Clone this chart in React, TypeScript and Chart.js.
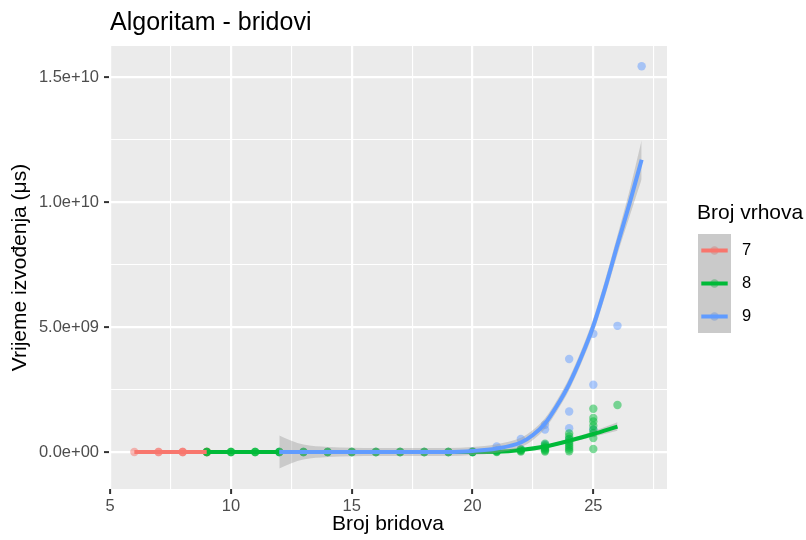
import React, { useEffect, useRef } from 'react';
import { Chart, registerables } from 'chart.js';

Chart.register(...registerables);

const FONT = '"Liberation Sans", Arial, Helvetica, sans-serif';

// ---------- text ----------
const titleText = 'Algoritam - bridovi';
const xTitle = 'Broj bridova';
const yTitle = 'Vrijeme izvođenja (μs)';
const legendTitle = 'Broj vrhova';
const groupLabels = ['7', '8', '9'];
const groupColors = ['#F8766D', '#00BA38', '#619CFF'];
const groupColorsA = ['rgba(248,118,109,0.5)', 'rgba(0,186,56,0.5)', 'rgba(97,156,255,0.5)'];

// ---------- axes ----------
const xRange = [4.95, 28.05];
const yRange = [-1.48e9, 16.25e9];
const xTicks = [5, 7.5, 10, 12.5, 15, 17.5, 20, 22.5, 25, 27.5];
const xMajor = [5, 10, 15, 20, 25];
const yTicks = [0, 2.5e9, 5e9, 7.5e9, 1e10, 1.25e10, 1.5e10];
const yMajor = [0, 5e9, 1e10, 1.5e10];

const UNIT = 1e9; // values below are in units of 1e9 µs

// ---------- raw points ----------
const redX = [6, 7, 7, 8, 8, 8, 9, 9, 9];
const redY = [0, 0, 0, 0, 0, 0, 0, 0, 0];

const greenX = [
  9, 9, 9, 10, 10, 10, 11, 11, 11, 12, 12, 12, 13, 13, 13, 14, 14, 14,
  15, 15, 15, 16, 16, 16, 17, 17, 17, 18, 18, 18, 19, 19, 19, 20, 20, 20,
  21, 21, 21, 22, 22, 22, 22,
  23, 23, 23, 23, 23, 23, 23,
  24, 24, 24, 24, 24, 24, 24, 24, 24,
  25, 25, 25, 25, 25, 25, 25, 25,
  26,
];
const greenY = [
  0, 0, 0, 0, 0, 0, 0, 0, 0, 0, 0, 0, 0, 0, 0, 0, 0, 0,
  0, 0, 0, 0, 0, 0, 0, 0, 0, 0, 0, 0, 0, 0, 0, 0, 0, 0,
  0, 0.02, 0.04, 0.02, 0.05, 0.08, 0.1,
  0.02, 0.06, 0.1, 0.15, 0.2, 0.26, 0.33,
  0.03, 0.1, 0.18, 0.26, 0.34, 0.42, 0.52, 0.62, 0.74,
  0.12, 0.56, 0.76, 0.89, 1.05, 1.22, 1.36, 1.73,
  1.88,
];

const blueX = [12, 13, 14, 15, 16, 17, 18, 19, 20, 20, 21, 21, 22, 22, 23, 23, 23, 24, 24, 24, 24, 25, 25, 25, 26, 27];
const blueY = [0, 0, 0, 0, 0, 0, 0, 0, 0, 0.03, 0.05, 0.22, 0.12, 0.52, 0.3, 0.9, 1.09, 0.5, 0.95, 1.62, 3.72, 0.9, 2.69, 4.73, 5.05, 15.44];

// ---------- smooth fits (fit and band half-width) ----------
const redFitX = [6, 7, 8, 9];
const redFitY = [0, 0, 0, 0];
const redFitSe = [0.02, 0.02, 0.02, 0.02];

const greenFitX = [9, 10, 11, 12, 13, 14, 15, 16, 17, 18, 19, 20, 21, 22, 23, 24, 25, 26];
const greenFitY = [0, 0, 0, 0, 0, 0, 0, 0, 0, 0, 0, 0, 0.01, 0.08, 0.22, 0.45, 0.72, 1.02];
const greenFitSe = [0.03, 0.03, 0.03, 0.03, 0.03, 0.03, 0.03, 0.03, 0.03, 0.03, 0.03, 0.03, 0.04, 0.05, 0.06, 0.08, 0.11, 0.17];

const blueFitX = [12, 12.5, 13, 14, 15, 16, 17, 18, 19, 20, 21, 22, 22.5, 23, 23.5, 24, 24.5, 25, 25.5, 26, 26.5, 27];
const blueFitY = [0, 0, 0, 0, 0, 0, 0, 0, 0, 0.04, 0.14, 0.38, 0.68, 1.14, 1.86, 2.72, 3.8, 5.05, 6.6, 8.3, 9.95, 11.7];
const blueFitSe = [0.66, 0.45, 0.3, 0.2, 0.17, 0.16, 0.16, 0.16, 0.16, 0.16, 0.17, 0.19, 0.2, 0.21, 0.22, 0.24, 0.26, 0.29, 0.33, 0.38, 0.52, 0.78];

const RIBBON = 'rgba(153,153,153,0.4)';

const pts = (xs: number[], ys: number[]) => xs.map((x, i) => ({ x, y: ys[i] * UNIT }));
const band = (xs: number[], ys: number[], se: number[], sign: number) =>
  xs.map((x, i) => ({ x, y: (ys[i] + sign * se[i]) * UNIT }));

const fmtSci = (v: number) => {
  const [m, e] = v.toExponential(1).split('e');
  const sign = e[0] === '-' ? '-' : '+';
  const d = e.replace(/^[+-]/, '').padStart(2, '0');
  return `${m}e${sign}${d}`;
};

function pointSet(xs: number[], ys: number[], g: number, order: number) {
  return {
    type: 'scatter' as const,
    data: pts(xs, ys),
    showLine: false,
    pointRadius: 4.2,
    pointHoverRadius: 4.2,
    pointBorderWidth: 0,
    pointBackgroundColor: groupColorsA[g],
    borderColor: 'rgba(0,0,0,0)',
    order,
  };
}

function ribbonSets(xs: number[], ys: number[], se: number[], order: number) {
  const common = {
    type: 'line' as const,
    borderWidth: 0,
    borderColor: 'rgba(0,0,0,0)',
    pointRadius: 0,
    cubicInterpolationMode: 'monotone' as const,
    order,
  };
  return [
    { ...common, data: band(xs, ys, se, 1), fill: '+1', backgroundColor: RIBBON },
    { ...common, data: band(xs, ys, se, -1), fill: false },
  ];
}

function fitLine(xs: number[], ys: number[], g: number, order: number) {
  return {
    type: 'line' as const,
    data: pts(xs, ys),
    borderColor: groupColors[g],
    borderWidth: 4,
    pointRadius: 0,
    fill: false,
    cubicInterpolationMode: 'monotone' as const,
    borderCapStyle: 'butt' as const,
    order,
  };
}

const ggPlugin = {
  id: 'ggDecor',
  beforeDraw(chart: any) {
    const { ctx, chartArea: a } = chart;
    ctx.save();
    ctx.fillStyle = '#FFFFFF';
    ctx.fillRect(0, 0, chart.width, chart.height);
    ctx.fillStyle = '#EBEBEB';
    ctx.fillRect(a.left, a.top, a.right - a.left, a.bottom - a.top);
    ctx.restore();
  },
  afterDraw(chart: any) {
    const { ctx } = chart;
    ctx.save();
    // title
    ctx.fillStyle = '#000000';
    ctx.font = `25px ${FONT}`;
    ctx.textAlign = 'left';
    ctx.textBaseline = 'alphabetic';
    ctx.fillText(titleText, 110, 30);

    // legend
    ctx.font = `21px ${FONT}`;
    ctx.textBaseline = 'middle';
    ctx.fillText(legendTitle, 697, 213);
    const kx = 698, ky = 234, ks = 33;
    for (let i = 0; i < groupLabels.length; i++) {
      const y0 = ky + i * ks;
      const cy = y0 + ks / 2;
      ctx.fillStyle = '#EBEBEB';
      ctx.fillRect(kx, y0, ks, ks);
      ctx.beginPath();
      ctx.arc(kx + ks / 2, cy, 4.2, 0, Math.PI * 2);
      ctx.fillStyle = groupColorsA[i];
      ctx.fill();
      ctx.fillStyle = RIBBON;
      ctx.fillRect(kx, y0, ks, ks);
      ctx.strokeStyle = groupColors[i];
      ctx.lineWidth = 4;
      ctx.lineCap = 'butt';
      ctx.beginPath();
      ctx.moveTo(kx + ks * 0.1, cy);
      ctx.lineTo(kx + ks * 0.9, cy);
      ctx.stroke();
      ctx.fillStyle = '#000000';
      ctx.font = `16.5px ${FONT}`;
      ctx.fillText(groupLabels[i], 742, cy);
    }
    ctx.restore();
  },
};

export default function App() {
  const ref = useRef<HTMLCanvasElement>(null);
  useEffect(() => {
    const canvas = ref.current;
    if (!canvas) return;
    const datasets: any[] = [
      pointSet(redX, redY, 0, 30),
      pointSet(blueX, blueY, 2, 29),
      pointSet(greenX, greenY, 1, 28),
      ...ribbonSets(redFitX, redFitY, redFitSe, 20),
      fitLine(redFitX, redFitY, 0, 19),
      ...ribbonSets(greenFitX, greenFitY, greenFitSe, 18),
      fitLine(greenFitX, greenFitY, 1, 17),
      ...ribbonSets(blueFitX, blueFitY, blueFitSe, 16),
      fitLine(blueFitX, blueFitY, 2, 15),
    ];
    const isMajorX = (v: number) => xMajor.includes(v);
    const isMajorY = (v: number) => yMajor.includes(v);
    const chart = new Chart(canvas, {
      type: 'scatter',
      data: { datasets },
      options: {
        animation: false,
        responsive: false,
        devicePixelRatio: 1,
        events: [],
        layout: { padding: { left: 0, top: 46, right: 139, bottom: 0 } },
        plugins: { legend: { display: false }, title: { display: false }, tooltip: { enabled: false } },
        scales: {
          x: {
            type: 'linear',
            min: xRange[0],
            max: xRange[1],
            afterBuildTicks: (s: any) => { s.ticks = xTicks.map((v) => ({ value: v })); },
            afterFit: (s: any) => { s.height = 51; },
            border: { display: false },
            grid: {
              color: '#FFFFFF',
              lineWidth: (c: any) => (c.tick && isMajorX(c.tick.value) ? 2.2 : 1.1),
              tickColor: (c: any) => (c.tick && isMajorX(c.tick.value) ? '#333333' : 'rgba(0,0,0,0)'),
              tickLength: 5,
              tickWidth: 2,
            },
            ticks: {
              autoSkip: false,
              maxRotation: 0,
              padding: 3,
              color: '#4D4D4D',
              font: { family: FONT, size: 16.5 },
              callback: (v: any) => (isMajorX(Number(v)) ? String(v) : ''),
            },
            title: {
              display: true,
              text: xTitle,
              color: '#000000',
              font: { family: FONT, size: 21 },
              padding: { top: 0, bottom: 3 },
            },
          },
          y: {
            type: 'linear',
            min: yRange[0],
            max: yRange[1],
            afterBuildTicks: (s: any) => { s.ticks = yTicks.map((v) => ({ value: v })); },
            afterFit: (s: any) => { s.width = 109; },
            border: { display: false },
            grid: {
              color: '#FFFFFF',
              lineWidth: (c: any) => (c.tick && isMajorY(c.tick.value) ? 2.2 : 1.1),
              tickColor: (c: any) => (c.tick && isMajorY(c.tick.value) ? '#333333' : 'rgba(0,0,0,0)'),
              tickLength: 5,
              tickWidth: 2,
            },
            ticks: {
              autoSkip: false,
              padding: 5,
              color: '#4D4D4D',
              font: { family: FONT, size: 16.5 },
              callback: (v: any) => (isMajorY(Number(v)) ? fmtSci(Number(v)) : ''),
            },
            title: {
              display: true,
              text: yTitle,
              color: '#000000',
              font: { family: FONT, size: 21 },
              padding: { top: 8, bottom: 0 },
            },
          },
        },
      },
      plugins: [ggPlugin],
    } as any);
    return () => chart.destroy();
  }, []);
  return (
    <canvas
      ref={ref}
      width={806}
      height={540}
      style={{ position: 'absolute', left: 0, top: 0, display: 'block', width: '806px', height: '540px' }}
    />
  );
}
